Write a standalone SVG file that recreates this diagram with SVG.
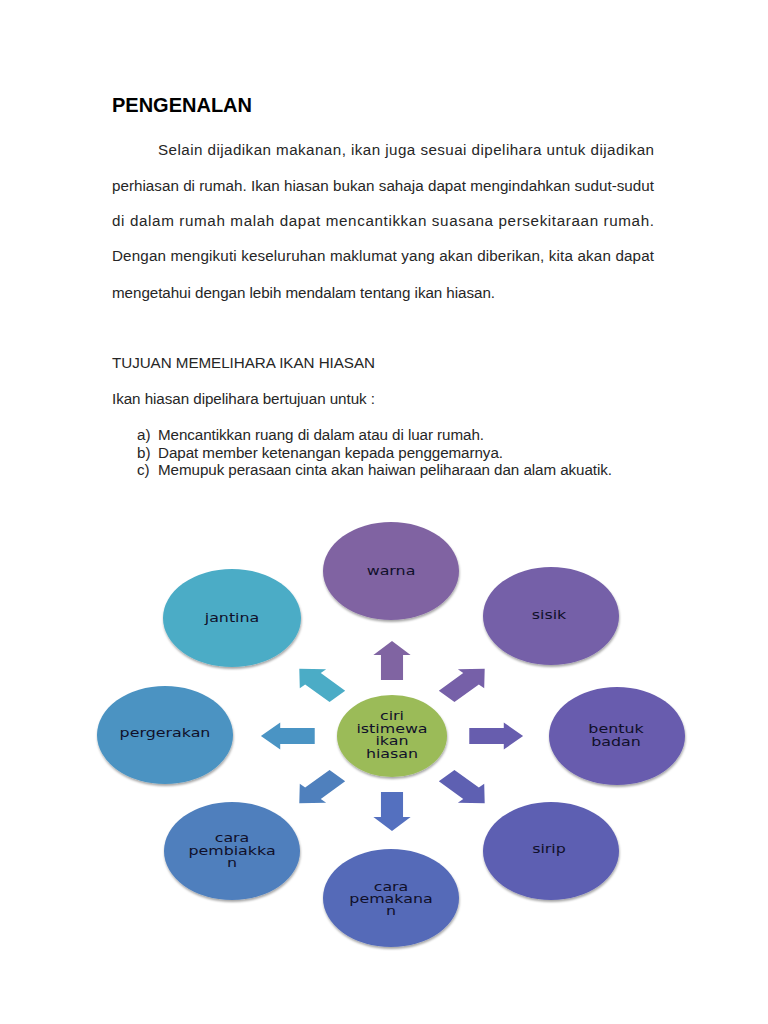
<svg xmlns="http://www.w3.org/2000/svg" width="768" height="1024" viewBox="0 0 768 1024">
<style>
.t{font-family:"Liberation Sans",Arial,sans-serif;font-size:15.2px;fill:#262626}
.h{font-family:"Liberation Sans",Arial,sans-serif;font-size:20px;font-weight:bold;fill:#000}
.n{font-family:"DejaVu Sans",Verdana,sans-serif;font-size:11.5px;fill:#10102a;text-anchor:middle}
.node ellipse{filter:url(#sh)}
</style>
<defs>
<filter id="sh" x="-10%" y="-10%" width="120%" height="130%">
<feDropShadow dx="0.5" dy="2" stdDeviation="1" flood-color="#000" flood-opacity="0.35"/>
</filter>
<path id="arr" d="M56,-8 L81,-8 L81,-13.5 L95,0 L81,13.5 L81,8 L56,8 Z"/>
</defs>
<rect width="768" height="1024" fill="#fff"/>
<g id="text">
<text class="h" x="112" y="112">PENGENALAN</text>
<text class="t" x="158" y="155" textLength="496" lengthAdjust="spacing">Selain dijadikan makanan, ikan juga sesuai dipelihara untuk dijadikan</text>
<text class="t" x="112" y="191" textLength="542" lengthAdjust="spacing">perhiasan di rumah. Ikan hiasan bukan sahaja dapat mengindahkan sudut-sudut</text>
<text class="t" x="112" y="226" textLength="542" lengthAdjust="spacing">di dalam rumah malah dapat mencantikkan suasana persekitaraan rumah.</text>
<text class="t" x="112" y="261" textLength="542" lengthAdjust="spacing">Dengan mengikuti keseluruhan maklumat yang akan diberikan, kita akan dapat</text>
<text class="t" x="112" y="298" textLength="383" lengthAdjust="spacing">mengetahui dengan lebih mendalam tentang ikan hiasan.</text>
<text class="t" x="112" y="368" textLength="263" lengthAdjust="spacing">TUJUAN MEMELIHARA IKAN HIASAN</text>
<text class="t" x="112" y="404" textLength="263" lengthAdjust="spacing">Ikan hiasan dipelihara bertujuan untuk :</text>
<text class="t" x="137" y="440">a)</text>
<text class="t" x="158" y="440" textLength="326" lengthAdjust="spacing">Mencantikkan ruang di dalam atau di luar rumah.</text>
<text class="t" x="137" y="457.5">b)</text>
<text class="t" x="158" y="457.5" textLength="345" lengthAdjust="spacing">Dapat member ketenangan kepada penggemarnya.</text>
<text class="t" x="137" y="475">c)</text>
<text class="t" x="158" y="475" textLength="454" lengthAdjust="spacing">Memupuk perasaan cinta akan haiwan peliharaan dan alam akuatik.</text>
</g>
<g id="connectors">
<use href="#arr" fill="#8064A2" transform="translate(392,736) scale(1.38,1) rotate(-90)"/>
<use href="#arr" fill="#7660A8" transform="translate(392,736) scale(1.38,1) rotate(-45)"/>
<use href="#arr" fill="#675DAE" transform="translate(392,736) scale(1.38,1) rotate(0)"/>
<use href="#arr" fill="#5E60B2" transform="translate(392,736) scale(1.38,1) rotate(45)"/>
<use href="#arr" fill="#5470BF" transform="translate(392,736) scale(1.38,1) rotate(90)"/>
<use href="#arr" fill="#4F80BD" transform="translate(392,736) scale(1.38,1) rotate(135)"/>
<use href="#arr" fill="#4A94C4" transform="translate(392,736) scale(1.38,1) rotate(180)"/>
<use href="#arr" fill="#4BACC6" transform="translate(392,736) scale(1.38,1) rotate(-135)"/>
</g>
<g id="center" class="node">
<ellipse cx="392" cy="736" rx="55" ry="41" fill="#9BBB59"/>
<text class="n" transform="translate(392,720) scale(1.38,1)">ciri</text>
<text class="n" transform="translate(392,732.5) scale(1.38,1)">istimewa</text>
<text class="n" transform="translate(392,745) scale(1.38,1)">ikan</text>
<text class="n" transform="translate(392,757.5) scale(1.38,1)">hiasan</text>
</g>
<g id="warna" class="node">
<ellipse cx="391" cy="571" rx="68" ry="49" fill="#8064A2"/>
<text class="n" transform="translate(391,575) scale(1.38,1)">warna</text>
</g>
<g id="sisik" class="node">
<ellipse cx="551" cy="616" rx="68" ry="49" fill="#7560A8"/>
<text class="n" transform="translate(549,619) scale(1.38,1)">sisik</text>
</g>
<g id="bentuk-badan" class="node">
<ellipse cx="617" cy="736" rx="68" ry="49" fill="#685CAE"/>
<text class="n" transform="translate(616,733) scale(1.38,1)">bentuk</text>
<text class="n" transform="translate(616,746) scale(1.38,1)">badan</text>
</g>
<g id="sirip" class="node">
<ellipse cx="551" cy="851" rx="68" ry="49" fill="#5D5FB2"/>
<text class="n" transform="translate(549,853) scale(1.38,1)">sirip</text>
</g>
<g id="cara-pemakanan" class="node">
<ellipse cx="391" cy="898" rx="68" ry="49" fill="#546AB8"/>
<text class="n" transform="translate(391,891) scale(1.38,1)">cara</text>
<text class="n" transform="translate(391,903) scale(1.38,1)">pemakana</text>
<text class="n" transform="translate(391,915) scale(1.38,1)">n</text>
</g>
<g id="cara-pembiakkan" class="node">
<ellipse cx="232" cy="851" rx="68" ry="49" fill="#4F7FBD"/>
<text class="n" transform="translate(232,842) scale(1.38,1)">cara</text>
<text class="n" transform="translate(232,854.5) scale(1.38,1)">pembiakka</text>
<text class="n" transform="translate(232,867) scale(1.38,1)">n</text>
</g>
<g id="pergerakan" class="node">
<ellipse cx="165" cy="735" rx="68" ry="49" fill="#4B93C2"/>
<text class="n" transform="translate(165,737) scale(1.38,1)">pergerakan</text>
</g>
<g id="jantina" class="node">
<ellipse cx="232" cy="618" rx="69" ry="49" fill="#4BACC6"/>
<text class="n" transform="translate(232,622) scale(1.38,1)">jantina</text>
</g>
</svg>
